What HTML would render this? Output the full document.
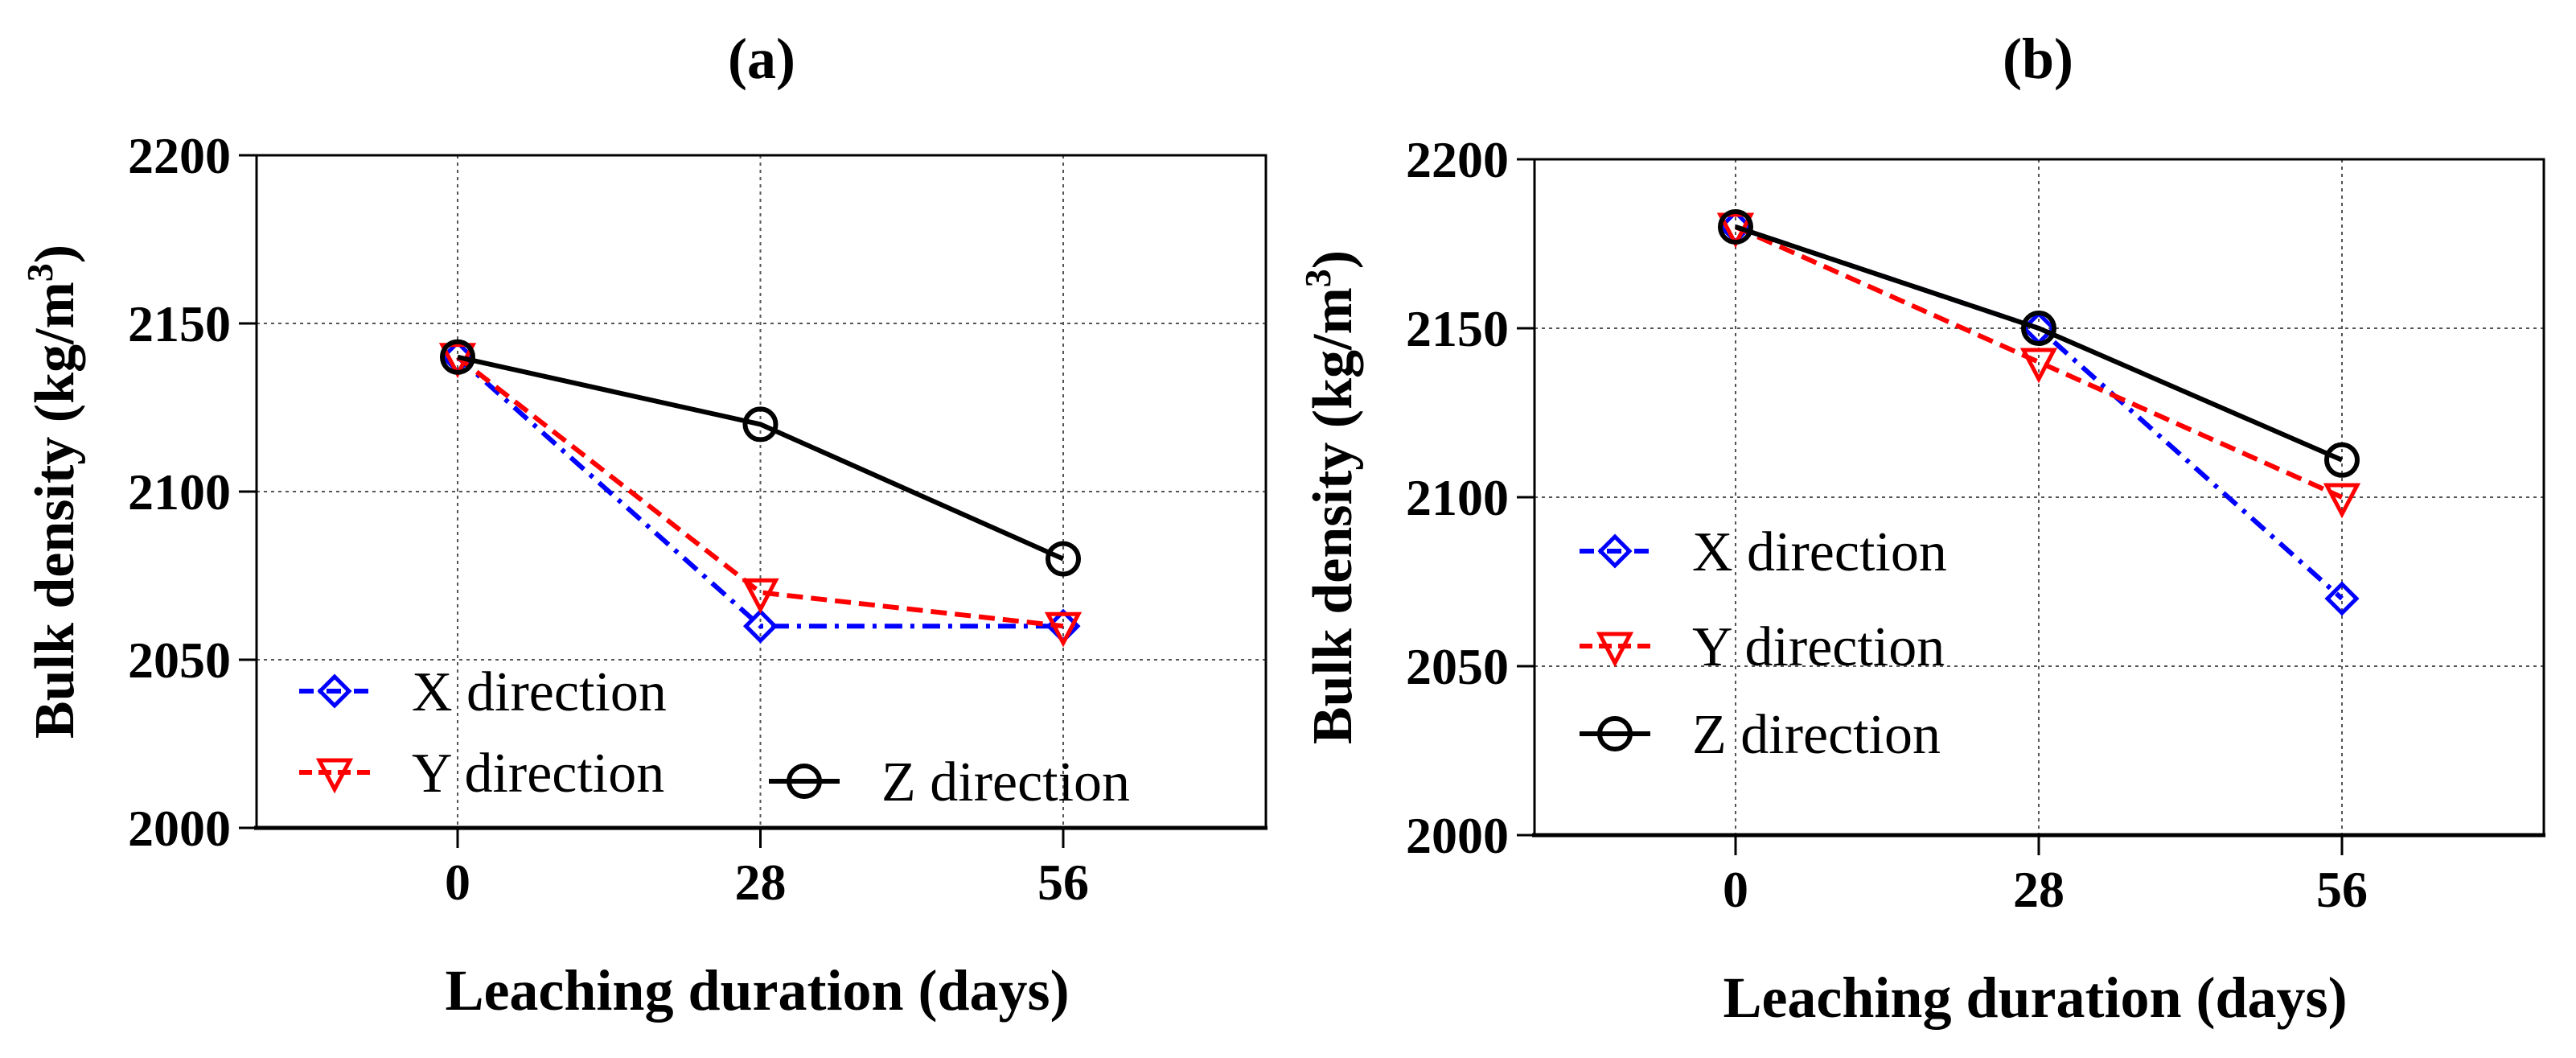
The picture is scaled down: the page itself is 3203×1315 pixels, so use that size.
<!DOCTYPE html>
<html><head><meta charset="utf-8"><style>
html,body{margin:0;padding:0;background:#fff}
svg{display:block}
text{font-family:"Liberation Serif",serif}
</style></head><body>
<svg id="c" width="3203" height="1315" viewBox="0 0 3203 1315" xmlns="http://www.w3.org/2000/svg"></svg>
<script>
const categories=[0,28,56];
const yTicks=[2000,2050,2100,2150,2200];
const aX=[2140,2060,2060];
const aY=[2140,2070,2060];
const aZ=[2140,2120,2080];
const bX=[2180,2150,2070];
const bY=[2180,2140,2100];
const bZ=[2180,2150,2111];
const seriesNames=["X direction","Y direction","Z direction"];

const NS="http://www.w3.org/2000/svg";
const svg=document.getElementById('c');
function mk(tag,attrs,parent){const e=document.createElementNS(NS,tag);for(const k in attrs)e.setAttribute(k,attrs[k]);(parent||svg).appendChild(e);return e;}

const styles=[{color:"#0000ff",dash:"22,10,5,10",marker:"diamond"},{color:"#ff0000",dash:"20,10",marker:"tri"},{color:"#000000",dash:"",marker:"circle"}];

function marker(g,type,x,y,color){
  let m;
  if(type==="circle"){m=mk('circle',{cx:x,cy:y,r:19,fill:'none',stroke:color,'stroke-width':6},g);}
  else if(type==="diamond"){m=mk('polygon',{points:`${x},${y-18} ${x+18},${y} ${x},${y+18} ${x-18},${y}`,fill:'none',stroke:color,'stroke-width':5},g);}
  else {m=mk('polygon',{points:`${x-19},${y-15} ${x+19},${y-15} ${x},${y+21}`,fill:'none',stroke:color,'stroke-width':5},g);}
  return m;
}

function panel(p){
  const g=mk('g',{});
  
  
  const X=v=>p.x0+(v-categories[0])/(categories[2]-categories[0])*(p.x2-p.x0);
  const Y=v=>p.bottom-(v-2000)/200*(p.bottom-p.top);
  yTicks.forEach(t=>{ if(t>2000&&t<2200){const l=mk('line',{x1:p.left,x2:p.right,y1:Y(t),y2:Y(t),stroke:'#555','stroke-width':2,'stroke-dasharray':'4,5'},g);}});
  categories.forEach(c=>{const l=mk('line',{x1:X(c),x2:X(c),y1:p.top,y2:p.bottom,stroke:'#555','stroke-width':2,'stroke-dasharray':'4,5'},g);});
  const fr=mk('rect',{x:p.left,y:p.top,width:p.right-p.left,height:p.bottom-p.top,fill:'none',stroke:'#000','stroke-width':3},g);
  
  mk('line',{x1:p.left-3,x2:p.right+2,y1:p.bottom,y2:p.bottom,stroke:'#000','stroke-width':5},g);
  yTicks.forEach(t=>{
    mk('line',{x1:p.left-22,x2:p.left,y1:Y(t),y2:Y(t),stroke:'#000','stroke-width':3},g);
    const tx=mk('text',{x:p.left-32,y:Y(t)+22,'text-anchor':'end','font-size':64,'font-weight':'bold'},g);tx.textContent=t;
    
  });
  categories.forEach(c=>{
    mk('line',{x1:X(c),x2:X(c),y1:p.bottom,y2:p.bottom+25,stroke:'#000','stroke-width':3},g);
    const tx=mk('text',{x:X(c),y:p.bottom+89,'text-anchor':'middle','font-size':64,'font-weight':'bold'},g);tx.textContent=c;
    
  });
  const ti=mk('text',{x:p.titleX,y:97,'text-anchor':'middle','font-size':72,'font-weight':'bold'},g);ti.textContent=p.title;
  
  const xl=mk('text',{x:(p.left+p.right)/2-5,y:p.bottom+226,'text-anchor':'middle','font-size':72,'font-weight':'bold'},g);xl.textContent="Leaching duration (days)";
  
  const yl=mk('text',{x:0,y:0,'text-anchor':'middle','font-size':70,'font-weight':'bold',transform:`translate(${p.left-228},${(p.top+p.bottom)/2}) rotate(-90)`},g);
  yl.innerHTML='Bulk density (kg/m<tspan dy="-26" font-size="46">3</tspan><tspan dy="26">)</tspan>';
  
  p.series.forEach((vals,i)=>{
    const s=styles[i];
    const sg=mk('g',{},g);
    
    const pts=vals.map((v,j)=>X(categories[j])+','+Y(v)).join(' ');
    const pl=mk('polyline',{points:pts,fill:'none',stroke:s.color,'stroke-width':6,'stroke-dasharray':s.dash},sg);
    
    vals.forEach((v,j)=>{const m=marker(sg,s.marker,X(categories[j]),Y(v),s.color);});
  });
  p.legend.forEach((L,i)=>{
    const s=styles[i];
    const lg=mk('g',{},g);
    
    mk('line',{x1:L[0]-44,x2:L[0]+44,y1:L[1],y2:L[1],stroke:s.color,'stroke-width':6,'stroke-dasharray':s.dash?(i===0?'18,6,4,6':'16,8'):''},lg);
    marker(lg,s.marker,L[0],L[1],s.color);
    const t=mk('text',{x:L[0]+96,y:L[1]+24,'font-size':70},lg);t.textContent=seriesNames[i];
  });
}
panel({id:'a',title:'(a)',titleX:947,left:319,right:1574,top:193,bottom:1029,x0:569,x2:1322,series:[aX,aY,aZ],legend:[[416,859],[416,960],[1000,971]]});
panel({id:'b',title:'(b)',titleX:2534,left:1908,right:3163,top:198,bottom:1038,x0:2158,x2:2912,series:[bX,bY,bZ],legend:[[2008,685],[2008,803],[2008,912]]});
</script>
</body></html>
